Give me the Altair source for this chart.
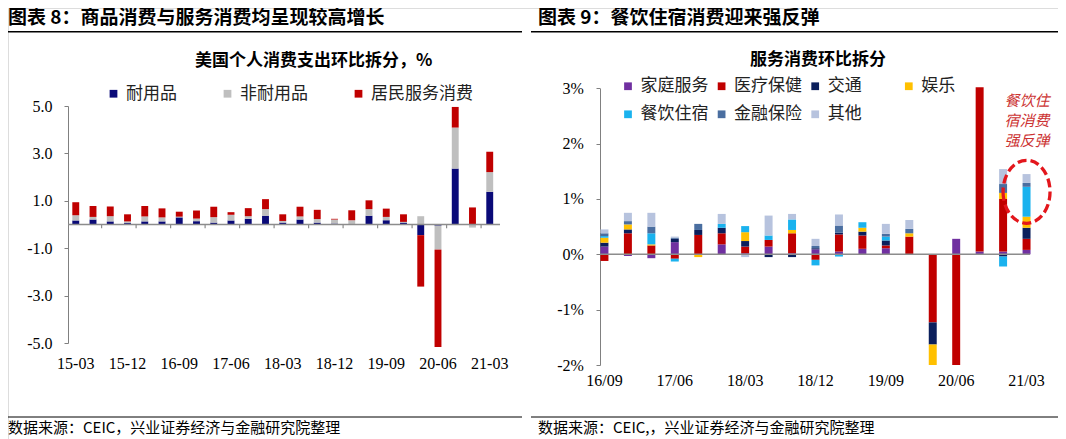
import altair as alt
import pandas as pd

# ---------------- left chart data (US PCE q/q decomposition, %) ----------------
quarters_l = ["15-03", "15-06", "15-09", "15-12", "16-03", "16-06", "16-09", "16-12",
              "17-03", "17-06", "17-09", "17-12", "18-03", "18-06", "18-09", "18-12",
              "19-03", "19-06", "19-09", "19-12", "20-03", "20-06", "20-09", "20-12", "21-03"]
ticks_l = ["15-03", "15-12", "16-09", "17-06", "18-03", "18-12", "19-09", "20-06", "21-03"]
series_l = ["耐用品", "非耐用品", "居民服务消费"]
colors_l = ["#0A0A78", "#BFBFBF", "#C00000"]
durable = [0.17, 0.21, 0.13, 0.06, 0.13, 0.13, 0.30, 0.14, 0.08, 0.17, 0.24, 0.37, 0.08,
           0.21, 0.08, 0.04, 0.00, 0.37, 0.18, 0.08, -0.45, -0.05, 2.36, 0.00, 1.38]
nondurable = [0.22, 0.11, 0.22, 0.07, 0.21, 0.17, 0.03, 0.11, 0.23, 0.24, 0.11, 0.28, 0.07,
              0.13, 0.15, 0.17, 0.18, 0.28, 0.14, 0.03, 0.35, -1.01, 1.73, -0.13, 0.83]
services = [0.55, 0.46, 0.41, 0.30, 0.44, 0.38, 0.21, 0.34, 0.44, 0.11, 0.34, 0.42, 0.28,
            0.41, 0.39, 0.03, 0.42, 0.37, 0.35, 0.32, -2.17, -4.11, 0.87, 0.72, 0.86]

# ---------------- right chart data (services q/q decomposition, %) ----------------
quarters_r = ["16/09", "16/12", "17/03", "17/06", "17/09", "17/12", "18/03", "18/06", "18/09",
              "18/12", "19/03", "19/06", "19/09", "19/12", "20/03", "20/06", "20/09", "20/12", "21/03"]
ticks_r = ["16/09", "17/06", "18/03", "18/12", "19/09", "20/06", "21/03"]
series_r = ["家庭服务", "医疗保健", "交通", "娱乐", "餐饮住宿", "金融保险", "其他"]
colors_r = ["#7030A0", "#C00000", "#0B1F5C", "#FFC000", "#1AB2EE", "#4A6EA0", "#B7C3DE"]
household = [0.14, -0.03, -0.07, 0.22, 0.00, 0.18, 0.02, 0.14, 0.02, 0.09, 0.05, 0.10, 0.11,
             0.00, 0.00, 0.28, 0.05, 0.05, 0.08]
healthcare = [-0.12, 0.38, 0.16, -0.08, 0.35, 0.20, 0.12, 0.12, 0.36, -0.10, 0.31, 0.24, 0.05,
              0.32, -1.23, -2.00, 2.97, 0.95, 0.20]
transport = [0.07, 0.07, 0.00, 0.06, 0.09, 0.10, 0.10, -0.05, -0.05, 0.02, 0.03, 0.07, 0.09,
             0.00, -0.40, 0.00, 0.00, -0.04, 0.20]
recreation = [0.09, 0.09, 0.02, 0.00, -0.05, 0.00, 0.16, 0.00, 0.06, 0.00, 0.00, 0.07, 0.00,
              0.06, -0.37, 0.00, 0.00, 0.11, 0.20]
food_accom = [0.03, 0.00, 0.20, -0.05, 0.00, 0.07, 0.11, 0.08, 0.19, -0.10, -0.04, 0.10, 0.07,
              0.00, 0.00, 0.00, 0.00, -0.18, 0.54]
finance = [0.05, 0.06, 0.12, 0.02, 0.11, 0.00, 0.00, 0.00, 0.00, 0.04, 0.13, 0.00, 0.05,
           0.08, 0.00, 0.00, 0.00, 0.16, 0.07]
other = [0.07, 0.15, 0.25, 0.02, 0.00, 0.18, -0.05, 0.36, 0.10, 0.13, 0.20, 0.00, 0.18,
         0.16, 0.00, 0.00, 0.00, 0.27, 0.16]

rows_l = []
for k, vals in enumerate([durable, nondurable, services]):
    for q, v in zip(quarters_l, vals):
        rows_l.append({"q": q, "s": series_l[k], "v": v, "o": k})
df_l = pd.DataFrame(rows_l)

rows_r = []
for k, vals in enumerate([household, healthcare, transport, recreation, food_accom, finance, other]):
    for q, v in zip(quarters_r, vals):
        rows_r.append({"q": q, "s": series_r[k], "v": v, "o": k})
df_r = pd.DataFrame(rows_r)

# small category-axis tick marks on the left zero line (every 2 categories)
df_ticks_l = pd.DataFrame({"q": quarters_l[2::2]})

dummy = pd.DataFrame({"d": [0]})

W, H = 1050, 431
NUM = "Liberation Serif"
CJK = "Noto Sans CJK SC"

# ---------------- left panel ----------------
xl_scale = alt.Scale(domain=quarters_l, range=[60, 489.5], paddingInner=0.6, paddingOuter=0.25)
yl_scale = alt.Scale(domain=[-5, 5], range=[335, 98], nice=False, zero=False)

left_bars = alt.Chart(df_l).mark_bar().encode(
    x=alt.X("q:N", scale=xl_scale,
            axis=alt.Axis(orient="bottom", values=ticks_l, offset=-85.3, domain=False, ticks=False,
                          tickSize=0, labelAngle=0, labelFont=NUM, labelFontSize=16, labelColor="#000",
                          labelPadding=2, labelOverlap=False, title=None)),
    y=alt.Y("v:Q", stack="zero", scale=yl_scale,
            axis=alt.Axis(orient="left", offset=-60, values=[-5, -3, -1, 1, 3, 5],
                          labelExpr="datum.value < 0 ? '-' + format(-datum.value, '.1f') : format(datum.value, '.1f')",
                          grid=False, domainColor="#808080", tickColor="#808080", tickSize=4,
                          labelPadding=12, labelFont=NUM, labelFontSize=16, labelColor="#000", title=None)),
    color=alt.Color("s:N", scale=alt.Scale(domain=series_l, range=colors_l),
                    legend=alt.Legend(orient="none", legendX=97, legendY=77, direction="horizontal",
                                      title=None, symbolType="square", symbolSize=60, symbolStrokeWidth=0,
                                      labelFont=CJK, labelFontSize=17, labelColor="#222", labelOffset=4,
                                      columnPadding=42, padding=0, labelLimit=0)),
    order=alt.Order("o:Q", sort="ascending"),
)
left_zero = alt.Chart(dummy).mark_rule(color="#8C8C8C", strokeWidth=1.5).encode(
    y=alt.datum(0), x=alt.value(60), x2=alt.value(492))
left_ticks = alt.Chart(df_ticks_l).mark_rule(color="#8C8C8C", strokeWidth=1.2, xOffset=-5.2).encode(
    x=alt.X("q:N", bandPosition=0), y=alt.datum(0), y2=alt.datum(-0.16))
left = alt.layer(left_bars, left_zero, left_ticks)

# ---------------- right panel ----------------
right_bars = alt.Chart(df_r).mark_bar().encode(
    x=alt.X("q:N",
            scale=alt.Scale(domain=quarters_r, range=[592, 1023], paddingInner=0.66, paddingOuter=0.02),
            axis=alt.Axis(orient="bottom", values=ticks_r, offset=-68.3, domain=False, ticks=False,
                          tickSize=0, labelAngle=0, labelFont=NUM, labelFontSize=16, labelColor="#000",
                          labelPadding=2, labelOverlap=False, title=None)),
    y=alt.Y("v:Q", stack="zero",
            scale=alt.Scale(domain=[-2, 3], range=[357, 80.3], nice=False, zero=False),
            axis=alt.Axis(orient="left", offset=-592, values=[-2, -1, 0, 1, 2, 3],
                          labelExpr="datum.value + '%'",
                          grid=False, domainColor="#808080", tickColor="#808080", tickSize=4,
                          labelPadding=12.7, labelFont=NUM, labelFontSize=16, labelColor="#000", title=None)),
    color=alt.Color("s:N", scale=alt.Scale(domain=series_r, range=colors_r),
                    legend=alt.Legend(orient="none", legendX=611.5, legendY=69.5, columns=4,
                                      direction="horizontal", gridAlign="all",
                                      title=None, symbolType="square", symbolSize=60, symbolStrokeWidth=0,
                                      labelFont=CJK, labelFontSize=17, labelColor="#222", labelOffset=4,
                                      columnPadding=4.6, rowPadding=10.3, padding=0, labelLimit=0)),
    order=alt.Order("o:Q", sort="ascending"),
)
right_zero = alt.Chart(dummy).mark_rule(color="#8C8C8C", strokeWidth=1.5).encode(
    y=alt.datum(0), x=alt.value(592), x2=alt.value(1022))
ellipse_path = "M-0.746,0 A0.746,1 0 1,0 0.746,0 A0.746,1 0 1,0 -0.746,0 Z"
right_ellipse = alt.Chart(dummy).mark_point(
    shape=ellipse_path, size=3969, filled=False, stroke="#E3161C", strokeWidth=3.3,
    strokeDash=[9, 4], opacity=1).encode(
    x=alt.datum("21/03"), y=alt.datum(1.13))
right = alt.layer(right_bars, right_zero, right_ellipse)

# ---------------- decorations ----------------
def txt(t, x, y, size, weight="normal", color="#000", align="left", font=CJK, style="normal",
        baseline="middle"):
    return alt.Chart(dummy).mark_text(text=t, align=align, baseline=baseline, font=font, fontSize=size,
                                      fontWeight=weight, color=color, fontStyle=style).encode(
        x=alt.value(x), y=alt.value(y))

def hline(x1, x2, y, color="#000", w=1.5):
    return alt.Chart(dummy).mark_rule(color=color, strokeWidth=w).encode(
        x=alt.value(x1), x2=alt.value(x2), y=alt.value(y))

decor = [
    txt("图表 8：商品消费与服务消费均呈现较高增长", 0, 1, 19, "bold", baseline="top"),
    txt("图表 9：餐饮住宿消费迎来强反弹", 530, 1, 19, "bold", baseline="top"),
    hline(0, 514, 23.7),
    hline(523, 1050, 23.7),
    txt("美国个人消费支出环比拆分，%", 187, 53, 17, "bold"),
    txt("服务消费环比拆分", 742, 52, 17, "bold"),
    txt("餐饮住", 1019, 92.5, 15, color="#CC3333", align="center", style="italic"),
    txt("宿消费", 1019, 112.5, 15, color="#CC3333", align="center", style="italic"),
    txt("强反弹", 1019, 132.5, 15, color="#CC3333", align="center", style="italic"),
    hline(0, 514, 409, w=1),
    hline(523, 1050, 409, w=1),
    txt("数据来源：CEIC，兴业证券经济与金融研究院整理", 0, 420, 15),
    txt("数据来源：CEIC,，兴业证券经济与金融研究院整理", 530, 420, 15),
]

chart = alt.layer(left, right, *decor).resolve_scale(
    x="independent", y="independent", color="independent"
).properties(
    width=W, height=H, autosize=alt.AutoSizeParams(type="none"), padding=0
).configure_view(stroke=None).configure(background="white")

chart.save("out.html", embed_options={"renderer": "svg", "actions": False})
